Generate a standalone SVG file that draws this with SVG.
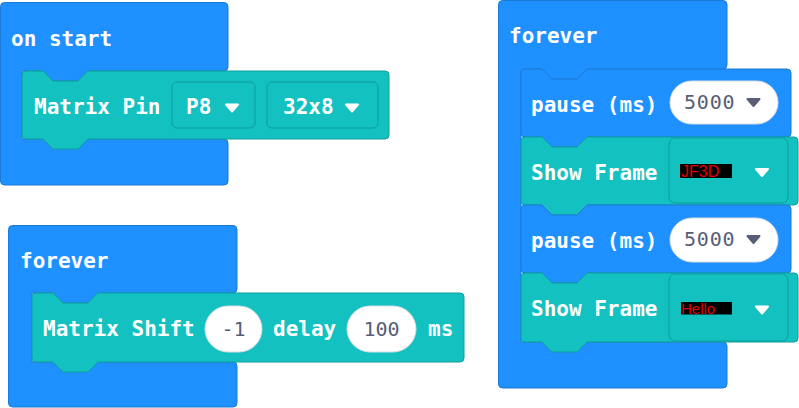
<svg xmlns="http://www.w3.org/2000/svg" xmlns:xlink="http://www.w3.org/1999/xlink" width="799" height="408" viewBox="0 0 799 408">
<defs>
<style>
.loop{fill:#1e90ff;stroke:#1a7ad6;stroke-width:1}
.teal{fill:#13c2c0;stroke:#0f9e9c;stroke-width:1}
.fld{fill:#13c2c0;stroke:#0f9a98;stroke-width:1}
.oval{fill:#ffffff;stroke:#d9dde3;stroke-width:1}
.lbl{font-family:"DejaVu Sans Mono","Liberation Mono",monospace;font-weight:bold;font-size:21px;fill:#ffffff}
.num{font-family:"DejaVu Sans Mono","Liberation Mono",monospace;font-size:20px;fill:#575e75}
.img{font-family:"Liberation Sans",Arial,sans-serif;fill:#e00000}
.aw{fill:#ffffff;stroke:#ffffff}
.ag{fill:#575e75;stroke:#575e75}
</style>
<path id="arr" d="M-6,-3.5 H6 L0,3.5 Z" stroke-width="2" stroke-linejoin="round"/>
</defs>

<g id="on-start">
<path class="loop" d="M4.5,2.5 H224 Q228,2.5 228,6.5 V67 Q228,71 224,71 H88 L78,81 H53 L43,71 H22 V139 H224 Q228,139 228,143 V181 Q228,185 224,185 H4.5 Q0.5,185 0.5,181 V6.5 Q0.5,2.5 4.5,2.5 Z"/>
<text class="lbl" x="11" y="46">on start</text>
</g>

<g id="matrix-pin">
<path class="teal" d="M22,75 Q22,71 26,71 H43 L53,81 H78 L88,71 H385 Q389,71 389,75 V135 Q389,139 385,139 H88 L78,149 H53 L43,139 H26 Q22,139 22,135 Z"/>
<text class="lbl" x="34" y="114">Matrix Pin</text>
<rect class="fld" x="172" y="82" width="83" height="46" rx="5"/>
<text class="lbl" x="186" y="114">P8</text>
<use xlink:href="#arr" class="aw" x="232" y="108"/>
<rect class="fld" x="267" y="82" width="111" height="46" rx="5"/>
<text class="lbl" x="283" y="114">32x8</text>
<use xlink:href="#arr" class="aw" x="352" y="108"/>
</g>

<g id="forever-left">
<path class="loop" d="M12.5,225.5 H233 Q237,225.5 237,229.5 V289 Q237,293 233,293 H98 L88,303 H63 L53,293 H32 V362 H233 Q237,362 237,366 V403 Q237,407 233,407 H12.5 Q8.5,407 8.5,403 V229.5 Q8.5,225.5 12.5,225.5 Z"/>
<text class="lbl" x="20" y="268">forever</text>
</g>

<g id="matrix-shift">
<path class="teal" d="M32,297 Q32,293 36,293 H53 L63,303 H88 L98,293 H460 Q464,293 464,297 V358 Q464,362 460,362 H98 L88,372 H63 L53,362 H36 Q32,362 32,358 Z"/>
<text class="lbl" x="43" y="336">Matrix Shift</text>
<rect class="oval" x="205" y="306" width="57" height="46" rx="23"/>
<text class="num" x="233.5" y="336" text-anchor="middle">-1</text>
<text class="lbl" x="273" y="336">delay</text>
<rect class="oval" x="347" y="306" width="69" height="46" rx="23"/>
<text class="num" x="381.5" y="336" text-anchor="middle">100</text>
<text class="lbl" x="428" y="336">ms</text>
</g>

<g id="forever-right">
<path class="loop" d="M502.5,0.5 H723 Q727,0.5 727,4.5 V65 Q727,69 723,69 H587 L577,79 H552 L542,69 H521 V342 H723 Q727,342 727,346 V384 Q727,388 723,388 H502.5 Q498.5,388 498.5,384 V4.5 Q498.5,0.5 502.5,0.5 Z"/>
<text class="lbl" x="509" y="43">forever</text>
</g>

<g id="pause-1">
<path class="loop" d="M521,73 Q521,69 525,69 H542 L552,79 H577 L587,69 H787 Q791,69 791,73 V133 Q791,137 787,137 H587 L577,147 H552 L542,137 H525 Q521,137 521,133 Z"/>
<text class="lbl" x="531" y="112">pause (ms)</text>
<rect class="oval" x="670" y="81" width="108" height="43" rx="21.5"/>
<text class="num" x="684" y="109" letter-spacing="0.8">5000</text>
<use xlink:href="#arr" class="ag" x="753.5" y="102.5"/>
</g>

<g id="show-frame-1">
<path class="teal" d="M521,141 Q521,137 525,137 H542 L552,147 H577 L587,137 H794 Q798,137 798,141 V201 Q798,205 794,205 H587 L577,215 H552 L542,205 H525 Q521,205 521,201 Z"/>
<text class="lbl" x="531" y="180">Show Frame</text>
<rect class="fld" x="669" y="138" width="119" height="65" rx="6"/>
<rect x="680" y="164" width="52" height="14" fill="#000000"/>
<text class="img" x="681" y="177" font-size="16">JF3D</text>
<use xlink:href="#arr" class="aw" x="762" y="172.5"/>
</g>

<g id="pause-2">
<path class="loop" d="M521,209 Q521,205 525,205 H542 L552,215 H577 L587,205 H787 Q791,205 791,209 V269 Q791,273 787,273 H587 L577,283 H552 L542,273 H525 Q521,273 521,269 Z"/>
<text class="lbl" x="531" y="248">pause (ms)</text>
<rect class="oval" x="670" y="218" width="108" height="44" rx="22"/>
<text class="num" x="684" y="246" letter-spacing="0.8">5000</text>
<use xlink:href="#arr" class="ag" x="753.5" y="239.5"/>
</g>

<g id="show-frame-2">
<path class="teal" d="M521,277 Q521,273 525,273 H542 L552,283 H577 L587,273 H794 Q798,273 798,277 V338 Q798,342 794,342 H587 L577,352 H552 L542,342 H525 Q521,342 521,338 Z"/>
<text class="lbl" x="531" y="316">Show Frame</text>
<rect class="fld" x="669" y="274" width="119" height="67" rx="6"/>
<rect x="681" y="302" width="51" height="12.5" fill="#000000"/>
<text class="img" x="681" y="314" font-size="15">Hello</text>
<use xlink:href="#arr" class="aw" x="762" y="310"/>
</g>

<g id="connectors"></g>
</svg>
